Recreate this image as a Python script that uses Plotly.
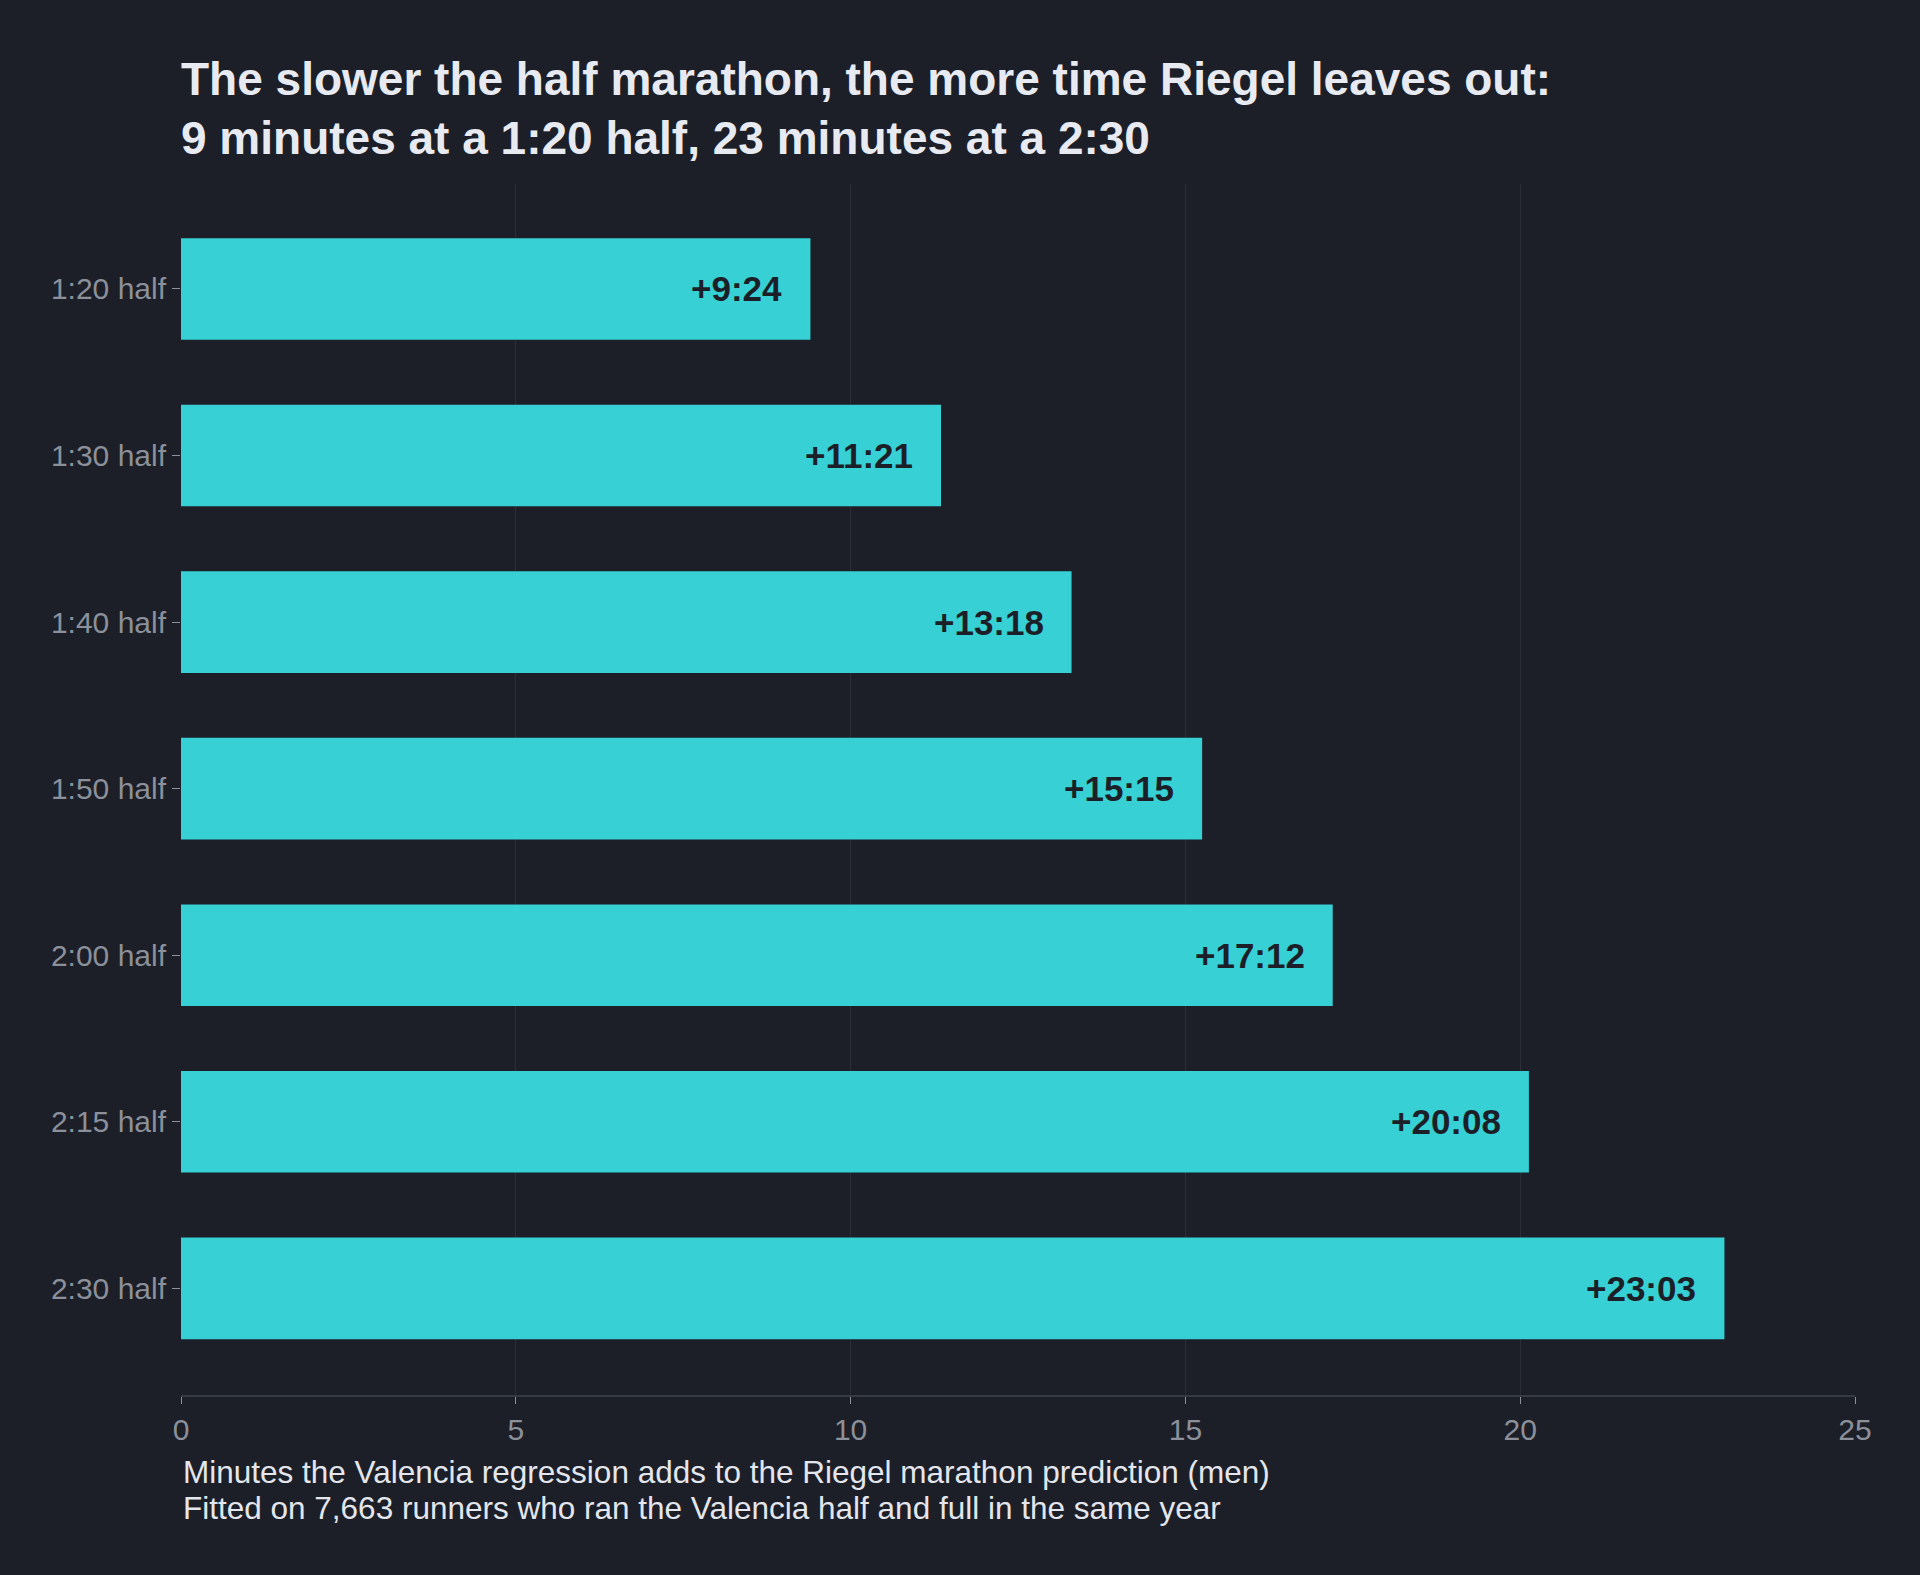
import plotly.graph_objects as go

# Data
halves = ["1:20 half", "1:30 half", "1:40 half", "1:50 half", "2:00 half", "2:15 half", "2:30 half"]
extra_minutes = [9.4, 11.35, 13.3, 15.25, 17.2, 20.13, 23.05]
extra_labels = ["+9:24", "+11:21", "+13:18", "+15:15", "+17:12", "+20:08", "+23:03"]
x_ticks = [0, 5, 10, 15, 20, 25]
footnote_lines = [
    "Minutes the Valencia regression adds to the Riegel marathon prediction (men)",
    "Fitted on 7,663 runners who ran the Valencia half and full in the same year",
]

BG = "#1c1f27"
BAR = "#36d0d5"
FONT = "Liberation Sans, Arial, Helvetica, sans-serif"

fig = go.Figure()

fig.add_trace(
    go.Bar(
        x=extra_minutes,
        y=halves,
        orientation="h",
        marker=dict(color=BAR, line=dict(width=0)),
        hoverinfo="skip",
        showlegend=False,
    )
)

# value labels sit just inside the end of each bar
for val, cat, lab in zip(extra_minutes, halves, extra_labels):
    fig.add_annotation(
        x=val,
        y=cat,
        text=f"<b>{lab}</b>",
        showarrow=False,
        xanchor="right",
        xshift=-26,
        font=dict(family=FONT, size=35, color="#1c1f27"),
    )

# two-line note under the axis
for i, line in enumerate(footnote_lines):
    fig.add_annotation(
        xref="paper",
        yref="paper",
        x=0,
        y=0,
        xanchor="left",
        yanchor="top",
        yshift=-57 - 36 * i,
        align="left",
        showarrow=False,
        text=line,
        font=dict(family=FONT, size=31.5, color="#e4e6ee"),
    )

fig.update_xaxes(
    range=[0, 25],
    tickvals=x_ticks,
    showgrid=True,
    gridcolor="#2a2e37",
    gridwidth=1,
    zeroline=False,
    showline=True,
    linecolor="#363a45",
    linewidth=2,
    ticks="outside",
    ticklen=7,
    tickcolor="#8b909b",
    tickfont=dict(family=FONT, size=30, color="#8b909b"),
)

fig.update_yaxes(
    categoryorder="array",
    categoryarray=halves,
    range=[6.64, -0.63],
    showgrid=False,
    zeroline=False,
    showline=False,
    ticks="outside",
    ticklen=8,
    tickcolor="#8b909b",
    tickfont=dict(family=FONT, size=30, color="#8b909b"),
)

fig.update_layout(
    width=1920,
    height=1575,
    paper_bgcolor=BG,
    plot_bgcolor=BG,
    bargap=0.39,
    margin=dict(l=181, r=65, t=184, b=180),
    title=dict(
        text="<b>The slower the half marathon, the more time Riegel leaves out:<br>"
        "9 minutes at a 1:20 half, 23 minutes at a 2:30</b>",
        x=0,
        xref="paper",
        xanchor="left",
        yref="container",
        y=0.94,
        yanchor="top",
        font=dict(family=FONT, size=46, color="#e8eaf2"),
    ),
)

fig.write_html(
    "out.html",
    config={"displayModeBar": False},
    post_script="document.body.style.margin='0';document.body.style.background='#1c1f27';",
)
